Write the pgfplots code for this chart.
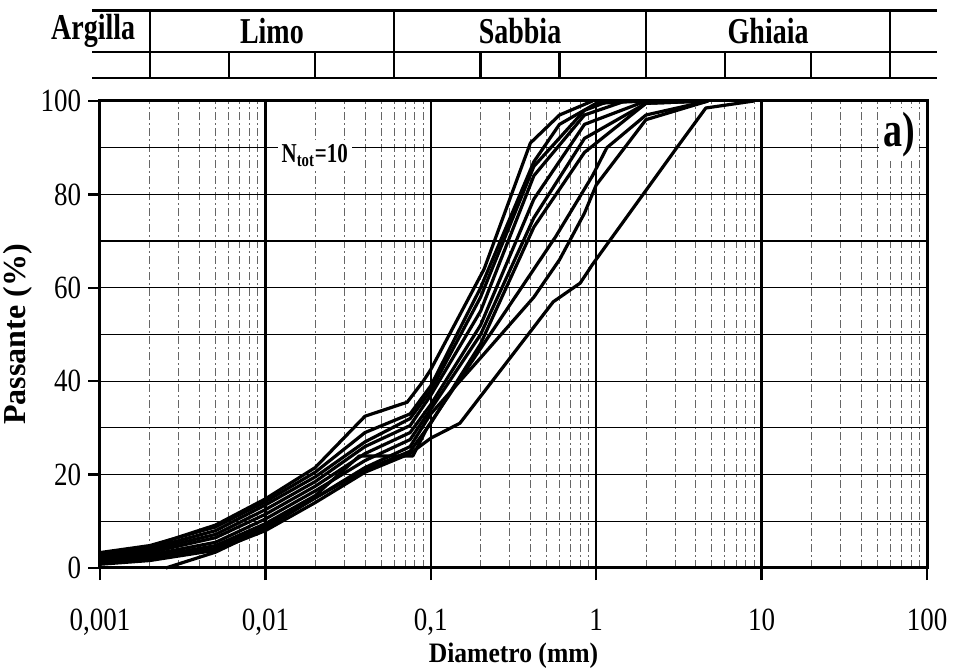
\documentclass[border=0pt]{standalone}
\usepackage{fontspec}
\setmainfont{Liberation Serif}
\usepackage{graphicx}
\usepackage{pgfplots}
\pgfplotsset{compat=1.18}
\newcommand{\vs}[1]{\scalebox{1}[1.3]{#1}}
\newcommand{\vt}[1]{\scalebox{1}[1.2]{#1}}
\newcommand{\vx}[1]{\scalebox{1}[1.1]{#1}}
\begin{document}
\begin{tikzpicture}
\begin{axis}[
  name=ax,
  scale only axis, width=413.5pt, height=233.5pt,
  xmode=log, log basis x=10,
  xmin=0.001, xmax=100, ymin=0, ymax=100,
  clip=false,
  xtick={0.001,0.01,0.1,1,10,100},
  xticklabels={\vt{0,001},\vt{0,01},\vt{0,1},\vt{1},\vt{10},\vt{100}},
  minor xtick={0.002,0.003,0.004,0.005,0.006,0.007,0.008,0.009,
               0.02,0.03,0.04,0.05,0.06,0.07,0.08,0.09,
               0.2,0.3,0.4,0.5,0.6,0.7,0.8,0.9,
               2,3,4,5,6,7,8,9,
               20,30,40,50,60,70,80,90},
  ytick={0,20,40,60,80,100},
  yticklabels={\vt{0},\vt{20},\vt{40},\vt{60},\vt{80},\vt{100}},
  minor ytick={10,30,50,70,90},
  xmajorgrids=true, xminorgrids=true, ymajorgrids=true, yminorgrids=true,
  major x grid style={black, line width=1.2pt},
  minor x grid style={black!60, line width=0.45pt, dash pattern=on 4pt off 1.5pt on 1pt off 1.5pt},
  major y grid style={black, line width=0.6pt},
  minor y grid style={black, line width=0.6pt},
  axis line style={black, line width=1.5pt},
  tick style={black, line width=1.2pt},
  major tick length=6pt, minor tick length=0pt,
  tick align=outside,
  xtick pos=bottom, ytick pos=left,
  ticklabel style={font=\fontsize{13.5}{16}\selectfont},
  xticklabel style={yshift=-11pt},
  /pgf/number format/assume math mode=true,
  xlabel={\vx{\textbf{Diametro (mm)}}},
  ylabel={\textbf{Passante (\%)}},
  xlabel style={font=\fontsize{12.8}{15}\selectfont, at={(axis description cs:0.5,-0.187)}, anchor=center},
  ylabel style={font=\fontsize{16}{18}\selectfont, at={(axis description cs:-0.0992,0.5)}, anchor=center},
]
% classification table
\draw[line width=1.5pt] (axis cs:0.000895,119.4) -- (axis cs:115,119.4);
\draw[line width=1.2pt] (axis cs:0.000895,110.49) -- (axis cs:115,110.49);
\draw[line width=1.2pt] (axis cs:0.000895,104.92) -- (axis cs:115,104.92);
\draw[line width=1.1pt] (axis cs:0.002,104.92) -- (axis cs:0.002,119.4);
\draw[line width=1.1pt] (axis cs:0.06,104.92) -- (axis cs:0.06,119.4);
\draw[line width=1.1pt] (axis cs:2,104.92) -- (axis cs:2,119.4);
\draw[line width=1.1pt] (axis cs:60,104.92) -- (axis cs:60,119.4);
\draw[line width=1.1pt] (axis cs:0.006,104.92) -- (axis cs:0.006,110.49);
\draw[line width=1.1pt] (axis cs:0.02,104.92) -- (axis cs:0.02,110.49);
\draw[line width=1.1pt] (axis cs:0.2,104.92) -- (axis cs:0.2,110.49);
\draw[line width=1.1pt] (axis cs:0.6,104.92) -- (axis cs:0.6,110.49);
\draw[line width=1.1pt] (axis cs:6,104.92) -- (axis cs:6,110.49);
\draw[line width=1.1pt] (axis cs:20,104.92) -- (axis cs:20,110.49);
\node[font=\fontsize{14}{16}\selectfont\bfseries] at (axis cs:0.00091,115.0) {\vs{Argilla}};
\node[font=\fontsize{14}{16}\selectfont\bfseries] at (axis cs:0.01095,115.0) {\vs{Limo}};
\node[font=\fontsize{14}{16}\selectfont\bfseries] at (axis cs:0.3464,115.0) {\vs{Sabbia}};
\node[font=\fontsize{14}{16}\selectfont\bfseries] at (axis cs:10.95,115.0) {\vs{Ghiaia}};
% curves
\addplot[black, line width=1.6pt, line join=round] coordinates {(0.001,2.8) (0.002,4.6) (0.005,9.2) (0.01,14.8) (0.02,21.5) (0.04,32.5) (0.072,35.5) (0.09,40) (0.1,42.5) (0.21,64) (0.4,91) (0.6,97) (0.95,100)};
\addplot[black, line width=1.6pt, line join=round] coordinates {(0.001,3.3) (0.002,4.8) (0.005,8.8) (0.01,14.2) (0.02,20.5) (0.04,29) (0.075,33) (0.1,39) (0.2,60) (0.42,87) (0.6,95) (1,99.5) (2,100)};
\addplot[black, line width=1.6pt, line join=round] coordinates {(0.001,2.5) (0.002,4.2) (0.005,8) (0.01,13.5) (0.02,19.5) (0.04,27) (0.075,32) (0.1,38) (0.2,58) (0.42,86) (0.85,98) (1.2,100)};
\addplot[black, line width=1.6pt, line join=round] coordinates {(0.001,2.2) (0.002,3.8) (0.005,7.2) (0.01,12.5) (0.02,18.5) (0.04,26) (0.075,30.5) (0.1,37) (0.2,55) (0.42,84) (0.85,97) (1.5,100)};
\addplot[black, line width=1.6pt, line join=round] coordinates {(0.001,1.9) (0.002,3.3) (0.005,6.5) (0.01,11.5) (0.02,17.5) (0.04,24.5) (0.075,29) (0.1,35) (0.2,52) (0.42,79) (0.85,95) (2,100)};
\addplot[black, line width=1.6pt, line join=round] coordinates {(0.001,1.6) (0.002,2.8) (0.005,5.5) (0.01,10.5) (0.02,16.5) (0.04,23) (0.075,27.5) (0.1,34) (0.2,50) (0.42,75) (0.85,92) (2,99.5) (4.75,100)};
\addplot[black, line width=1.6pt, line join=round] coordinates {(0.0025,0) (0.005,3.4) (0.01,8.5) (0.02,15) (0.04,21) (0.075,25) (0.1,31) (0.2,48) (0.42,73) (0.85,89) (2,99.5) (4.75,100)};
\addplot[black, line width=1.6pt, line join=round] coordinates {(0.001,1.3) (0.002,2.3) (0.005,4.8) (0.01,9.5) (0.02,15.5) (0.037,24) (0.078,24) (0.095,30) (0.2,47) (0.42,64) (0.57,71) (0.95,84) (1.16,90) (2,97) (4.75,100)};
\addplot[black, line width=1.6pt, line join=round] coordinates {(0.001,1.1) (0.002,2) (0.005,4.2) (0.01,9) (0.02,15) (0.04,21.5) (0.075,26) (0.1,33) (0.2,45) (0.42,58) (0.6,66) (0.85,76) (1,82) (2,96) (4.75,100)};
\addplot[black, line width=1.6pt, line join=round] coordinates {(0.001,0.8) (0.002,1.6) (0.005,3.8) (0.01,8) (0.02,14) (0.04,20.5) (0.075,24.5) (0.1,27.8) (0.15,31) (0.55,57) (0.8,61) (0.95,65) (3,89.5) (4.6,98.5) (9,100)};
% annotations
\node[fill=white, inner sep=2pt, font=\fontsize{10.5}{12}\selectfont\bfseries] at (axis cs:0.0199,88.4) {\vs{N\textsubscript{tot}=10}};
\node[fill=white, inner sep=2pt, font=\fontsize{19}{22}\selectfont\bfseries] at (axis cs:68,92.8) {\vs{a)}};
\end{axis}
\draw[line width=1.5pt] ([shift={(-4pt,45.3pt)}]ax.north west) -- ([shift={(5pt,45.3pt)}]ax.north east);
\pgfresetboundingbox
\path ([shift={(-50pt,-50.5pt)}]ax.south west) rectangle ++(476.5pt,334.5pt);
\end{tikzpicture}
\end{document}
